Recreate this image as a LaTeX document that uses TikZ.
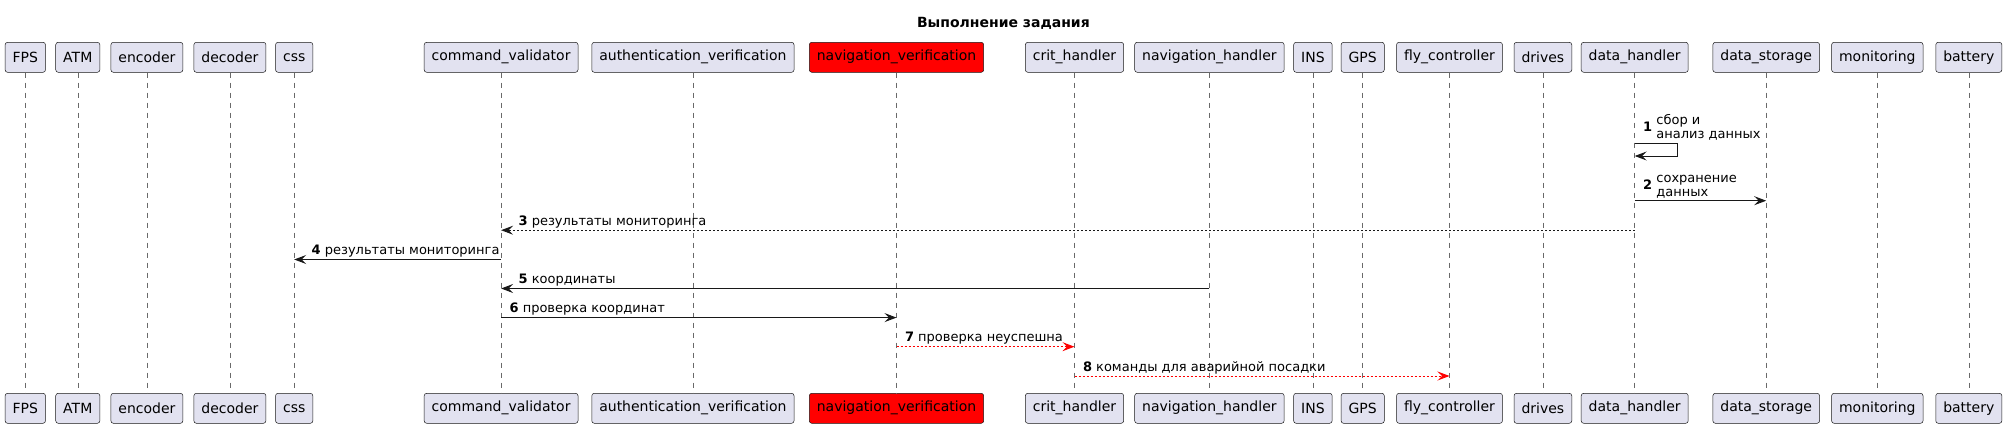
\documentclass[tikz,border=0pt]{standalone}
\usepackage{fontspec}
\setmainfont{DejaVu Sans}
\usepackage{xcolor}
\usepackage{tikz}
\usetikzlibrary{positioning,arrows.meta}
\definecolor{lane}{HTML}{E2E2F0}
\definecolor{ink}{HTML}{181818}
\definecolor{alarm}{HTML}{FF0000}

\begin{document}
\begin{tikzpicture}[x=1pt, y=-1pt, node distance=320.5pt,
  part/.style={draw=ink, line width=0.5pt, rounded corners=2.5pt, fill=lane, inner xsep=7.5pt, minimum height=30pt, font=\fontsize{14}{16}\selectfont},
  life/.style={draw=ink!65, line width=0.5pt, dash pattern=on 5pt off 5pt},
  msg/.style={draw=ink, line width=1pt, -{Stealth[length=12pt, width=9pt, inset=4.5pt]}},
  dots/.style={dash pattern=on 2pt off 2pt},
  lbl/.style={inner sep=0pt, anchor=base west, font=\fontsize{13}{14}\selectfont}]
\useasboundingbox (0,0) rectangle (2008,428);
\node[font=\bfseries\fontsize{14}{16}\selectfont] (title) at (1003.4,23) {Выполнение задания};
\node[part] (fps) at (25.3,57.3) {FPS};
\node[part] (atm) at (77.8,57.3) {ATM};
\node[part] (enc) at (146.9,57.3) {encoder};
\node[part] (dec) at (229.9,57.3) {decoder};
\node[part] (css) at (294.2,57.3) {css};
\node[part] (cmd) at (501.1,57.3) {command\_validator};
\node[part] (auth) at (692.9,57.3) {authentication\_verification};
\node[part, fill=alarm] (nver) at (896.5,57.3) {navigation\_verification};
\node[part] (crit) at (1074.5,57.3) {crit\_handler};
\node[part] (nhand) at (1209.4,57.3) {navigation\_handler};
\node[part] (ins) at (1312.9,57.3) {INS};
\node[part] (gps) at (1362.7,57.3) {GPS};
\node[part] (fly) at (1449.5,57.3) {fly\_controller};
\node[part] (drv) at (1542.9,57.3) {drives};
\node[part] (dh) at (1634.7,57.3) {data\_handler};
\node[part] (ds) at (1766.2,57.3) {data\_storage};
\node[part] (mon) at (1877.3,57.3) {monitoring};
\node[part] (bat) at (1968.8,57.3) {battery};
\node[part, below=of fps] (fpsb) {FPS};
\node[part, below=of atm] (atmb) {ATM};
\node[part, below=of enc] (encb) {encoder};
\node[part, below=of dec] (decb) {decoder};
\node[part, below=of css] (cssb) {css};
\node[part, below=of cmd] (cmdb) {command\_validator};
\node[part, below=of auth] (authb) {authentication\_verification};
\node[part, fill=alarm, below=of nver] (nverb) {navigation\_verification};
\node[part, below=of crit] (critb) {crit\_handler};
\node[part, below=of nhand] (nhandb) {navigation\_handler};
\node[part, below=of ins] (insb) {INS};
\node[part, below=of gps] (gpsb) {GPS};
\node[part, below=of fly] (flyb) {fly\_controller};
\node[part, below=of drv] (drvb) {drives};
\node[part, below=of dh] (dhb) {data\_handler};
\node[part, below=of ds] (dsb) {data\_storage};
\node[part, below=of mon] (monb) {monitoring};
\node[part, below=of bat] (batb) {battery};
\draw[life] (fps) -- (fpsb);
\draw[life] (atm) -- (atmb);
\draw[life] (enc) -- (encb);
\draw[life] (dec) -- (decb);
\draw[life] (css) -- (cssb);
\draw[life] (cmd) -- (cmdb);
\draw[life] (auth) -- (authb);
\draw[life] (nver) -- (nverb);
\draw[life] (crit) -- (critb);
\draw[life] (nhand) -- (nhandb);
\draw[life] (ins) -- (insb);
\draw[life] (gps) -- (gpsb);
\draw[life] (fly) -- (flyb);
\draw[life] (drv) -- (drvb);
\draw[life] (dh) -- (dhb);
\draw[life] (ds) -- (dsb);
\draw[life] (mon) -- (monb);
\draw[life] (bat) -- (batb);
\coordinate (r1) at (0,143.3);
\coordinate (r1b) at (0,156);
\coordinate (r2) at (0,200.7);
\coordinate (r3) at (0,230.2);
\coordinate (r4) at (0,259.5);
\coordinate (r5) at (0,288.5);
\coordinate (r6) at (0,317.6);
\coordinate (r7) at (0,346.7);
\coordinate (r8) at (0,376);
\draw[msg] (dh |- r1) node[lbl, xshift=8pt, yshift=11.5pt] {\textbf{1} \begin{tabular}{@{}l@{}}сбор и\\анализ данных\end{tabular}} -- ++(42.6,0) -- ++(0,12.7) -- (dh |- r1b);
\draw[msg] (dh |- r2) node[lbl, xshift=8pt, yshift=11.5pt] {\textbf{2} \begin{tabular}{@{}l@{}}сохранение\\данных\end{tabular}} -- (ds |- r2);
\draw[msg, dots] (dh |- r3) -- (cmd |- r3) node[lbl, xshift=17pt, yshift=5pt] {\textbf{3} результаты мониторинга};
\draw[msg] (cmd |- r4) -- (css |- r4) node[lbl, xshift=17pt, yshift=5pt] {\textbf{4} результаты мониторинга};
\draw[msg] (nhand |- r5) -- (cmd |- r5) node[lbl, xshift=17pt, yshift=5pt] {\textbf{5} координаты};
\draw[msg] (cmd |- r6) node[lbl, xshift=8pt, yshift=5pt] {\textbf{6} проверка координат} -- (nver |- r6);
\draw[msg, dots, draw=alarm] (nver |- r7) node[lbl, xshift=8pt, yshift=5pt] {\textbf{7} проверка неуспешна} -- (crit |- r7);
\draw[msg, dots, draw=alarm] (crit |- r8) node[lbl, xshift=8pt, yshift=5pt] {\textbf{8} команды для аварийной посадки} -- (fly |- r8);
\end{tikzpicture}
\end{document}
